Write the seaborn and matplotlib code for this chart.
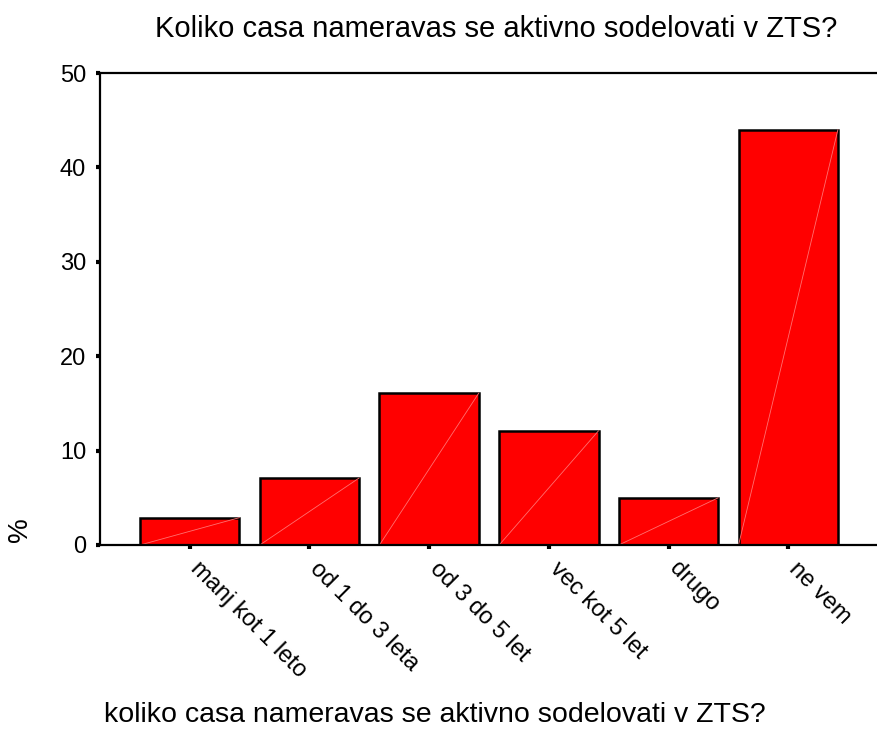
import matplotlib
matplotlib.use("Agg")
import matplotlib.pyplot as plt
import matplotlib.transforms as mtransforms
import seaborn as sns
import pandas as pd

# Data
categories = ["manj kot 1 leto", "od 1 do 3 leta", "od 3 do 5 let",
              "vec kot 5 let", "drugo", "ne vem"]
percent = [2.9, 7.1, 16.1, 12.1, 5.0, 44.0]
y_ticks = [0, 10, 20, 30, 40, 50]

title = "Koliko casa nameravas se aktivno sodelovati v ZTS?"
x_title = "koliko casa nameravas se aktivno sodelovati v ZTS?"

df = pd.DataFrame({"category": categories, "percent": percent})

sns.set_style("ticks")
plt.rcParams["font.family"] = ["Liberation Sans", "DejaVu Sans"]
plt.rcParams["text.color"] = "black"
plt.rcParams["xtick.color"] = "black"
plt.rcParams["ytick.color"] = "black"
plt.rcParams["axes.labelcolor"] = "black"

fig = plt.figure(figsize=(8.78, 7.34), dpi=100)
ax = fig.add_axes([0.1139, 0.2575, 0.8861, 0.643])

sns.barplot(data=df, x="category", y="percent", color="#ff0000",
            saturation=1, width=0.83, edgecolor="black", linewidth=1.8, ax=ax)

# thin light diagonal inside each bar (as in the original rendering)
for p in ax.patches:
    x0, y0 = p.get_x(), p.get_y()
    ax.plot([x0, x0 + p.get_width()], [y0, y0 + p.get_height()],
            color="#ff7070", linewidth=0.6, zorder=p.get_zorder() + 0.1)

ax.set_xlim(-0.75, 5.75)
ax.set_ylim(0, 50)
ax.set_yticks(y_ticks)

for side in ["left", "top", "bottom"]:
    ax.spines[side].set_linewidth(1.6)
    ax.spines[side].set_color("black")
ax.spines["right"].set_visible(False)

ax.tick_params(axis="both", direction="out", length=3, width=3,
               color="black", labelsize=17)
ax.tick_params(axis="y", pad=7)
ax.tick_params(axis="x", pad=6)

shift = mtransforms.ScaledTranslation(0.12, 0, fig.dpi_scale_trans)
for lab in ax.get_xticklabels():
    lab.set_rotation(-45)
    lab.set_ha("left")
    lab.set_va("top")
    lab.set_rotation_mode("anchor")
    lab.set_transform(lab.get_transform() + shift)

ax.set_xlabel("")
ax.set_ylabel("%", fontsize=20, rotation=90)
ax.yaxis.set_label_coords(-0.086, 0.032)

ax.text(0.43, -0.375, x_title, fontsize=20.5, ha="center", va="baseline",
        transform=ax.transAxes)
ax.text(0.509, 1.076, title, fontsize=21, ha="center", va="baseline",
        transform=ax.transAxes)

fig.savefig("out.png", dpi=100)
